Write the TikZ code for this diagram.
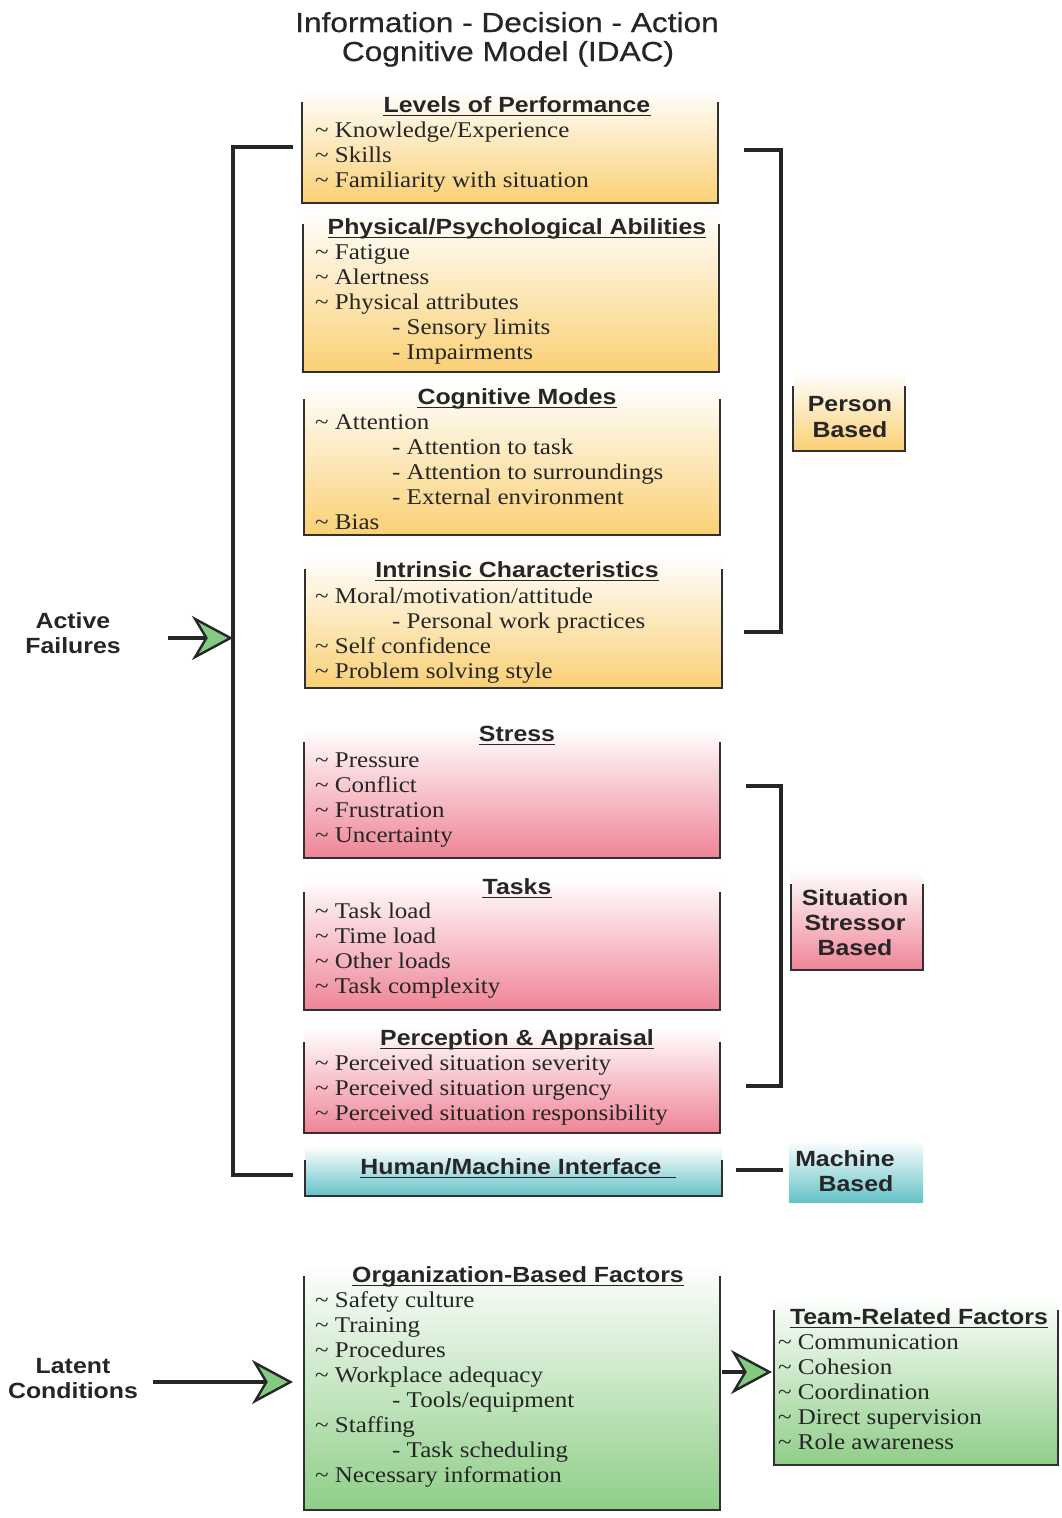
\documentclass[tikz,border=0pt]{standalone}
\usepackage{fontspec}
\setmainfont{Liberation Serif}[FakeStretch=1.11]
\setsansfont{Liberation Sans}[FakeStretch=1.13]
\newfontfamily\titlefont{Liberation Sans}[FakeStretch=1.15,FakeBold=0.6]
\usetikzlibrary{arrows.meta}
\definecolor{ink}{HTML}{262626}
\definecolor{edgec}{HTML}{303030}
\definecolor{orgB}{RGB}{250,208,116}
\definecolor{pinkB}{RGB}{239,132,150}
\definecolor{tealB}{RGB}{100,194,200}
\definecolor{greenB}{RGB}{143,206,136}
\definecolor{arrowG}{RGB}{132,202,130}
\newcommand\tld{\textasciitilde\ }
\newcommand\subi{\hspace*{77pt}- }
\newcommand\panel[6]{%
  \node[panel=#6, minimum width={(#4-#2)*1pt}, minimum height={(#5-#3)*1pt}] (#1) at (#2,#3) {};
  \draw[edge] ([yshift=-14pt]#1.north west) -- (#1.south west) -- (#1.south east) -- ([yshift=-14pt]#1.north east);}
\newcommand\heading[4]{%
  \node[head] (#1) at (#2,#3) {#4};
  \draw[uline] ([yshift=-3.5pt]#1.base west) -- ([yshift=-3.5pt]#1.base east);}
\newcommand\itemlines[4]{%
  \foreach \t [count=\i from 0] in {#4} {
    \node[item] (#1-\i) at (#2, #3+25*\i) {\t};
  }}
\begin{document}
\begin{tikzpicture}[x=1pt,y=-1pt,
  panel/.style={anchor=north west, inner sep=0, outer sep=0, top color=white, bottom color=#1, draw=none},
  edge/.style={draw=edgec, line width=2.6pt},
  item/.style={font=\fontsize{22.5}{25}\selectfont, text=ink, inner sep=0, anchor=base west},
  head/.style={font=\sffamily\bfseries\fontsize{22}{25}\selectfont, text=ink, inner sep=0, anchor=base},
  lab/.style={font=\sffamily\bfseries\fontsize{22}{25}\selectfont, text=ink, inner sep=0, anchor=base},
  ttl/.style={font=\titlefont\fontsize{27.5}{30}\selectfont, text=ink, inner sep=0, anchor=base},
  uline/.style={draw=ink, line width=1.8pt},
  bracket/.style={draw=ink, line width=3.2pt},
  arr/.style={draw=ink, line width=3.2pt, -{Stealth[length=41pt, width=44pt, inset=13pt, fill=arrowG, line width=2.4pt]}}
]
\fill[white] (0,0) rectangle (1062,1518);
\useasboundingbox (0,0) rectangle (1062,1518);

% title
\node[ttl] (title1) at (507,32) {Information - Decision - Action};
\node[ttl] (title2) at (508,61) {Cognitive Model (IDAC)};

% person based panels
\panel{lop}{302}{88}{718}{203}{orgB}
\heading{lopH}{517}{112}{Levels of Performance}
\itemlines{lopL}{315}{137}{{\tld Knowledge/Experience},{\tld Skills},{\tld Familiarity with situation}}

\panel{ppa}{303}{210}{719}{372}{orgB}
\heading{ppaH}{517}{234}{Physical/Psychological Abilities}
\itemlines{ppaL}{315}{259}{{\tld Fatigue},{\tld Alertness},{\tld Physical attributes},{\subi Sensory limits},{\subi Impairments}}

\panel{cgm}{304}{385}{720}{535}{orgB}
\heading{cgmH}{517}{404}{Cognitive Modes}
\itemlines{cgmL}{315}{429}{{\tld Attention},{\subi Attention to task},{\subi Attention to surroundings},{\subi External environment},{\tld Bias}}

\panel{inc}{305}{555}{722}{688}{orgB}
\heading{incH}{517}{577}{Intrinsic Characteristics}
\itemlines{incL}{315}{603}{{\tld Moral/motivation/attitude},{\subi Personal work practices},{\tld Self confidence},{\tld Problem solving style}}

% situation panels
\panel{str}{304}{728}{720}{858}{pinkB}
\heading{strH}{517}{741}{Stress}
\itemlines{strL}{315}{767}{{\tld Pressure},{\tld Conflict},{\tld Frustration},{\tld Uncertainty}}

\panel{tsk}{304}{878}{720}{1010}{pinkB}
\heading{tskH}{517}{894}{Tasks}
\itemlines{tskL}{315}{918}{{\tld Task load},{\tld Time load},{\tld Other loads},{\tld Task complexity}}

\panel{per}{304}{1028}{720}{1133}{pinkB}
\heading{perH}{517}{1045}{Perception \& Appraisal}
\itemlines{perL}{315}{1070}{{\tld Perceived situation severity},{\tld Perceived situation urgency},{\tld Perceived situation responsibility}}

% machine panel
\panel{hmi}{305}{1146}{722}{1196}{tealB}
\heading{hmiH}{518}{1174}{Human/Machine Interface\hspace*{14pt}}

% organization
\panel{org}{304}{1262}{720}{1510}{greenB}
\heading{orgH}{518}{1282}{Organization-Based Factors}
\itemlines{orgL}{315}{1307}{{\tld Safety culture},{\tld Training},{\tld Procedures},{\tld Workplace adequacy},{\subi Tools/equipment},{\tld Staffing},{\subi Task scheduling},{\tld Necessary information}}

\panel{team}{774}{1296}{1058}{1465}{greenB}
\heading{teamH}{919}{1324}{Team-Related Factors}
\itemlines{teamL}{778}{1349}{{\tld Communication},{\tld Cohesion},{\tld Coordination},{\tld Direct supervision},{\tld Role awareness}}

% side category boxes
\panel{pbx}{793}{372}{905}{451}{orgB}
\node[lab] (pb1) at (850,411) {Person};
\node[lab] (pb2) at (850,437) {Based};

\panel{sbx}{791}{870}{923}{970}{pinkB}
\node[lab] (sb1) at (855,905) {Situation};
\node[lab] (sb2) at (855,930) {Stressor};
\node[lab] (sb3) at (855,955) {Based};

\node[panel=tealB, minimum width=134pt, minimum height=62pt] (mbx) at (789,1140) {};
\node[lab] (mb1) at (845,1166) {Machine};
\node[lab] (mb2) at (856,1191) {Based};

% left labels
\node[lab] (af1) at (73,628) {Active};
\node[lab] (af2) at (73,653) {Failures};
\node[lab] (lc1) at (73,1373) {Latent};
\node[lab] (lc2) at (73,1398) {Conditions};

% brackets
\coordinate (afT) at (293,147);
\coordinate (afB) at (293,1175);
\draw[bracket] (afT) -- (233,147) -- (233,1175) -- (afB);
\coordinate (afS) at (168,638);
\coordinate (afE) at (233,638);
\draw[arr] (afS) -- (afE);

\coordinate (pbT) at (744,150);
\coordinate (pbB) at (744,632);
\draw[bracket] (pbT) -- (781,150) -- (781,632) -- (pbB);

\coordinate (sbT) at (746,786);
\coordinate (sbB) at (746,1086);
\draw[bracket] (sbT) -- (781,786) -- (781,1086) -- (sbB);

\coordinate (mbS) at (736,1170);
\coordinate (mbE) at (783,1170);
\draw[bracket] (mbS) -- (mbE);

\coordinate (lcS) at (153,1382);
\coordinate (lcE) at (293,1382);
\draw[arr] (lcS) -- (lcE);

\coordinate (otS) at (722,1372);
\coordinate (otE) at (772,1372);
\draw[arr] (otS) -- (otE);
\end{tikzpicture}
\end{document}
